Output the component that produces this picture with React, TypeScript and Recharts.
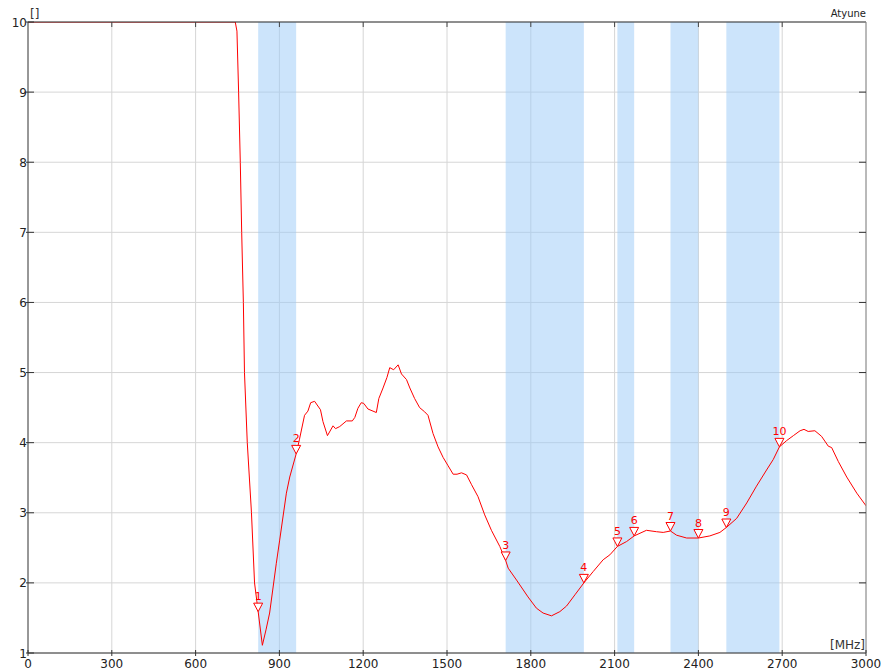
import { ComposedChart, Line, Scatter, XAxis, YAxis, CartesianGrid, ReferenceArea } from 'recharts'

// frequency sweep [MHz] and the traced value
const freqs = [
  0, 742, 748, 754, 760, 765, 771, 775, 785, 800, 811, 824, 839, 852, 865, 889, 901, 925, 937, 960,
  972, 990, 1002, 1012, 1026, 1047, 1056, 1072, 1092, 1101, 1116, 1140, 1161, 1170, 1181, 1193, 1202,
  1217, 1235, 1247, 1256, 1271, 1285, 1295, 1309, 1325, 1337, 1355, 1367, 1384, 1402, 1420, 1432, 1450,
  1468, 1486, 1504, 1522, 1536, 1552, 1570, 1588, 1611, 1635, 1659, 1689, 1710, 1719, 1749, 1790, 1820,
  1844, 1874, 1904, 1928, 1958, 1990, 2023, 2059, 2083, 2110, 2143, 2170, 2214, 2250, 2274, 2300, 2322,
  2358, 2400, 2441, 2477, 2500, 2537, 2573, 2608, 2644, 2668, 2690, 2716, 2740, 2764, 2778, 2793, 2817,
  2841, 2865, 2877, 2901, 2931, 2967, 3000
]
const values = [
  10, 10, 9.87, 9.0, 8.0, 7.0, 6.0, 5.0, 4.0, 3.0, 2.0, 1.59, 1.11, 1.33, 1.57, 2.28, 2.61, 3.28, 3.51, 3.84,
  4.05, 4.39, 4.45, 4.57, 4.59, 4.47, 4.3, 4.1, 4.24, 4.2, 4.23, 4.31, 4.31, 4.36, 4.49, 4.57, 4.56,
  4.48, 4.45, 4.43, 4.63, 4.78, 4.93, 5.07, 5.04, 5.11, 4.98, 4.9, 4.78, 4.63, 4.5, 4.44, 4.39, 4.13,
  3.94, 3.79, 3.67, 3.55, 3.55, 3.57, 3.54, 3.4, 3.23, 2.97, 2.75, 2.52, 2.32, 2.21, 2.04, 1.8, 1.64,
  1.57, 1.53, 1.59, 1.67, 1.83, 2.0, 2.16, 2.33, 2.4, 2.52, 2.59, 2.67, 2.75, 2.73, 2.72, 2.74, 2.68,
  2.64, 2.64, 2.67, 2.72, 2.79, 2.92, 3.14, 3.38, 3.61, 3.76, 3.94, 4.03, 4.1, 4.17, 4.19, 4.16, 4.17,
  4.09, 3.95, 3.93, 3.73, 3.51, 3.28, 3.1
]

// numbered markers
const markerFreqs = [824, 960, 1710, 1990, 2110, 2170, 2300, 2400, 2500, 2690]
const markerValues = [1.59, 3.84, 2.32, 2.0, 2.52, 2.67, 2.74, 2.64, 2.79, 3.94]

// highlighted bands
const bandStarts = [824, 1710, 2110, 2300, 2500]
const bandEnds = [960, 1990, 2170, 2400, 2690]

const xTicks = [0, 300, 600, 900, 1200, 1500, 1800, 2100, 2400, 2700, 3000]
const yTicks = [1, 2, 3, 4, 5, 6, 7, 8, 9, 10]

const FONT = 'DejaVu Sans, Verdana, sans-serif'
const RED = '#ff0000'

const curve = freqs.map((f, i) => ({ f, v: values[i] }))
const markers = markerFreqs.map((f, i) => ({ f, v: markerValues[i], n: i + 1 }))

const BottomTick = ({ x, y, payload }: any) => (
  <g>
    <line x1={x} x2={x} y1={y - 3} y2={y + 3} stroke="#333" />
    <text x={x} y={y + 15} textAnchor="middle" fontSize={12} fontFamily={FONT} fill="#222">
      {payload.value}
    </text>
  </g>
)

const LeftTick = ({ x, y, payload }: any) => (
  <g>
    <line x1={x - 2} x2={x + 6} y1={y} y2={y} stroke="#333" />
    <text x={x - 1} y={y + 4.5} textAnchor="end" fontSize={12} fontFamily={FONT} fill="#222">
      {payload.value}
    </text>
  </g>
)

const TopTick = ({ x, y }: any) => <line x1={x} x2={x} y1={y} y2={y + 5} stroke="#444" />

const RightTick = ({ x, y }: any) => <line x1={x - 7} x2={x} y1={y} y2={y} stroke="#333" />

const MarkerShape = ({ cx, cy, payload }: any) => (
  <g>
    <polygon
      points={`${cx - 4.5},${cy - 8.5} ${cx + 4.5},${cy - 8.5} ${cx},${cy}`}
      fill="#fff"
      stroke={RED}
      strokeWidth={1}
    />
    <text x={cx} y={cy - 11.5} textAnchor="middle" fontSize={11} fontFamily={FONT} fill={RED}>
      {payload.n}
    </text>
  </g>
)

export default function App() {
  return (
    <div style={{ position: 'absolute', left: 0, top: 0, width: 884, height: 672, background: '#fff' }}>
      <ComposedChart
        width={884}
        height={672}
        margin={{ top: 21, right: 17, bottom: 0, left: 0 }}
      >
        <CartesianGrid stroke="#d6d6d6" />
        <XAxis
          dataKey="f"
          type="number"
          domain={[0, 3000]}
          ticks={xTicks}
          height={19}
          tickSize={0}
          tickMargin={0}
          tickLine={false}
          axisLine={{ stroke: '#333' }}
          tick={<BottomTick />}
          interval={0}
          allowDataOverflow
        />
        <XAxis
          xAxisId="top"
          orientation="top"
          dataKey="f"
          type="number"
          domain={[0, 3000]}
          ticks={xTicks.slice(1, -1)}
          height={1}
          tickSize={0}
          tickMargin={0}
          tickLine={false}
          axisLine={{ stroke: '#333' }}
          tick={<TopTick />}
          interval={0}
          allowDataOverflow
        />
        <YAxis
          type="number"
          domain={[1, 10]}
          ticks={yTicks}
          width={28}
          tickSize={0}
          tickMargin={0}
          tickLine={false}
          axisLine={{ stroke: '#444' }}
          tick={<LeftTick />}
          interval={0}
          allowDataOverflow
        />
        <YAxis
          yAxisId="right"
          orientation="right"
          type="number"
          domain={[1, 10]}
          ticks={yTicks.slice(1, -1)}
          width={1}
          tickSize={0}
          tickMargin={0}
          tickLine={false}
          axisLine={{ stroke: '#888' }}
          tick={<RightTick />}
          interval={0}
          allowDataOverflow
        />
        {bandStarts.map((s, i) => (
          <ReferenceArea
            key={`band-${i}`}
            x1={s}
            x2={bandEnds[i]}
            y1={1}
            y2={10}
            fill="#99c9f7"
            fillOpacity={0.5}
            stroke="none"
          />
        ))}
        <Line
          data={curve}
          dataKey="v"
          type="linear"
          stroke={RED}
          strokeWidth={1}
          dot={false}
          activeDot={false}
          isAnimationActive={false}
        />
        <Scatter
          data={markers}
          dataKey="v"
          shape={<MarkerShape />}
          isAnimationActive={false}
        />
      </ComposedChart>
      <svg
        width={884}
        height={672}
        style={{ position: 'absolute', left: 0, top: 0, pointerEvents: 'none' }}
      >
        <text x={30} y={18} fontSize={12} fontFamily={FONT} fill="#333">[]</text>
        <text x={866} y={17} textAnchor="end" fontSize={10} fontFamily={FONT} fill="#222">Atyune</text>
        <text x={865} y={649} textAnchor="end" fontSize={12} fontFamily={FONT} fill="#333">[MHz]</text>
      </svg>
    </div>
  )
}
